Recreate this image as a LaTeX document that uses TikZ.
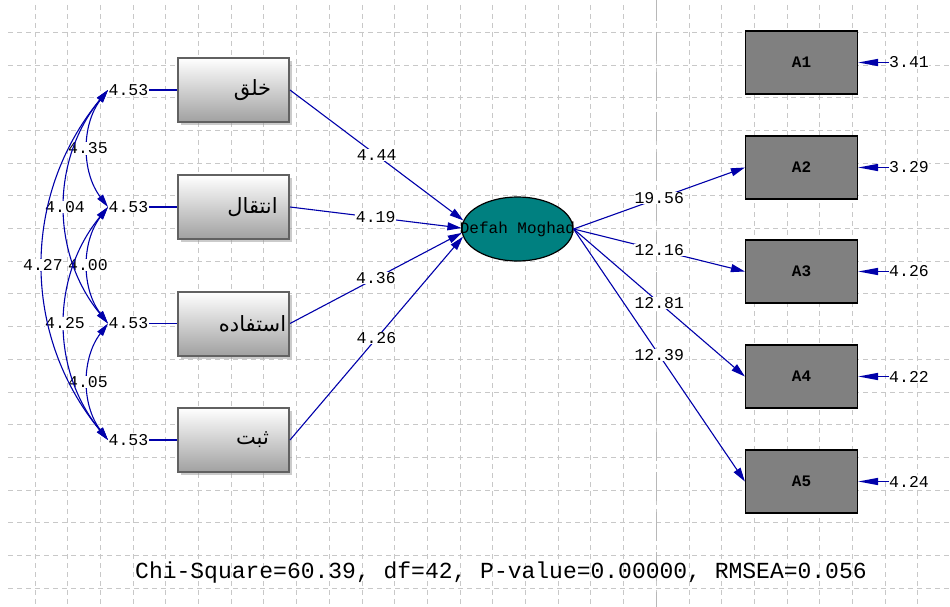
\documentclass[tikz,border=0pt]{standalone}
\usepackage{fontspec}
\setmainfont{Liberation Serif}
\setmonofont{Liberation Mono}
\newfontfamily\arabicfont[Script=Arabic]{DejaVu Sans}
\TeXXeTstate=1
\usetikzlibrary{shapes.geometric,arrows.meta,shadows}
\definecolor{pathblue}{RGB}{0,0,170}
\definecolor{tealfill}{RGB}{0,128,128}
\definecolor{gridgray}{RGB}{200,200,200}
\definecolor{boxgray}{RGB}{128,128,128}
\newcommand{\arabictext}[1]{\hspace*{38pt}{\arabicfont\fontsize{21}{24}\selectfont\beginR #1\endR}}
\begin{document}
\begin{tikzpicture}[x=1pt,y=-1pt,
  gridline/.style={gridgray, line width=0.9pt, dash pattern=on 5pt off 4pt},
  pageline/.style={black!28, line width=1pt, dash pattern=on 29pt off 11pt, dash phase=8pt},
  obsx/.style={draw=black!62, line width=2pt, top color=white, bottom color=black!37,
    minimum width=111pt, minimum height=64pt, inner sep=0pt,
    drop shadow={shadow xshift=3pt, shadow yshift=-3pt, fill=black!40, opacity=0.5}},
  obsy/.style={draw=black, line width=1.2pt, fill=boxgray, minimum width=112pt, minimum height=63pt,
    inner sep=0pt, text=black, font=\ttfamily\bfseries\fontsize{16}{18}\selectfont},
  latent/.style={ellipse, draw=black, line width=1.2pt, fill=tealfill, minimum width=111pt,
    minimum height=64pt, inner sep=0pt},
  num/.style={font=\ttfamily\fontsize{16.5}{18}\selectfont, fill=white, text=black, inner sep=0.5pt},
  conn/.style={pathblue, line width=1.1pt, -{Triangle[length=14pt,width=8pt]}},
  plainconn/.style={pathblue, line width=1.1pt},
  errconn/.style={pathblue, line width=1.5pt, -{Triangle[length=20pt,width=7pt]}},
  cov/.style={pathblue, line width=1.1pt, {Triangle[length=13pt,width=7pt]}-{Triangle[length=13pt,width=7pt]}},
]
\useasboundingbox (0,0) rectangle (950,607);
\fill[white] (0,0) rectangle (950,607);
% grid
\foreach \k in {0,...,28} \draw[gridline] ({35+32.7*\k},5) -- ({35+32.7*\k},607);
\foreach \k in {0,...,17} \draw[gridline] (8,{32.3+32.7*\k}) -- (950,{32.3+32.7*\k});
\draw[pageline] (656,0) -- (656,607);

% left observed variables
\node[obsx] (b1) at (233.5,90) {\arabictext{خلق}};
\node[obsx] (b2) at (233.5,207) {\arabictext{انتقال}};
\node[obsx] (b3) at (233.5,323.5) {\arabictext{استفاده}};
\node[obsx] (b4) at (233.5,440) {\arabictext{ثبت}};

% variances
\node[num] (v1) at (128.5,90) {4.53};
\node[num] (v2) at (128.5,207) {4.53};
\node[num] (v3) at (128.5,323.5) {4.53};
\node[num] (v4) at (128.5,440) {4.53};
\foreach \i in {1,...,4} \draw[plainconn] (v\i) -- (b\i);

% covariances
\draw[cov] (v1.west) .. controls +(-26.7,35) and +(-26.7,-35) .. node[num] {4.35} (v2.west);
\draw[cov] (v2.west) .. controls +(-26.7,35) and +(-26.7,-35) .. node[num] {4.00} (v3.west);
\draw[cov] (v3.west) .. controls +(-26.7,35) and +(-26.7,-35) .. node[num] {4.05} (v4.west);
\draw[cov] (v1.west) .. controls +(-57.3,70) and +(-57.3,-70) .. node[num] {4.04} (v3.west);
\draw[cov] (v2.west) .. controls +(-57.3,70) and +(-57.3,-70) .. node[num] {4.25} (v4.west);
\draw[cov] (v1.west) .. controls +(-86.7,105) and +(-86.7,-105) .. node[num] {4.27} (v4.west);

% latent variable
\node[latent, label={[font=\ttfamily\fontsize{16}{18}\selectfont, inner sep=0pt]center:Defah Moghad}] (F) at (517.5,229) {};

\draw[conn] (b1.east) -- node[num] {4.44} (F.171);
\draw[conn] (b2.east) -- node[num] {4.19} (F.179);
\draw[conn] (b3.east) -- node[num] {4.36} (F.184);
\draw[conn] (b4.east) -- node[num] {4.26} (F.188);

% right observed variables
\node[obsy] (A1) at (801.5,62.5) {A1};
\node[obsy] (A2) at (801.5,167.5) {A2};
\node[obsy] (A3) at (801.5,271.5) {A3};
\node[obsy] (A4) at (801.5,376.5) {A4};
\node[obsy] (A5) at (801.5,481.5) {A5};

\draw[conn] (F.east) -- node[num] {19.56} (A2.west);
\draw[conn] (F.east) -- node[num] {12.16} (A3.west);
\draw[conn] (F.east) -- node[num] {12.81} (A4.west);
\draw[conn] (F.east) -- node[num] {12.39} (A5.west);

% error variances
\node[num] (e1) at (909,62.5) {3.41};
\node[num] (e2) at (909,167.5) {3.29};
\node[num] (e3) at (909,271.5) {4.26};
\node[num] (e4) at (909,376.5) {4.22};
\node[num] (e5) at (909,481.5) {4.24};
\foreach \i in {1,...,5} \draw[errconn] (e\i) -- (A\i);

% fit statistics
\node[font=\ttfamily\fontsize{23}{26}\selectfont, inner sep=0pt] (fit) at (501,573)
  {Chi-Square=60.39, df=42, P-value=0.00000, RMSEA=0.056};
\end{tikzpicture}
\end{document}
